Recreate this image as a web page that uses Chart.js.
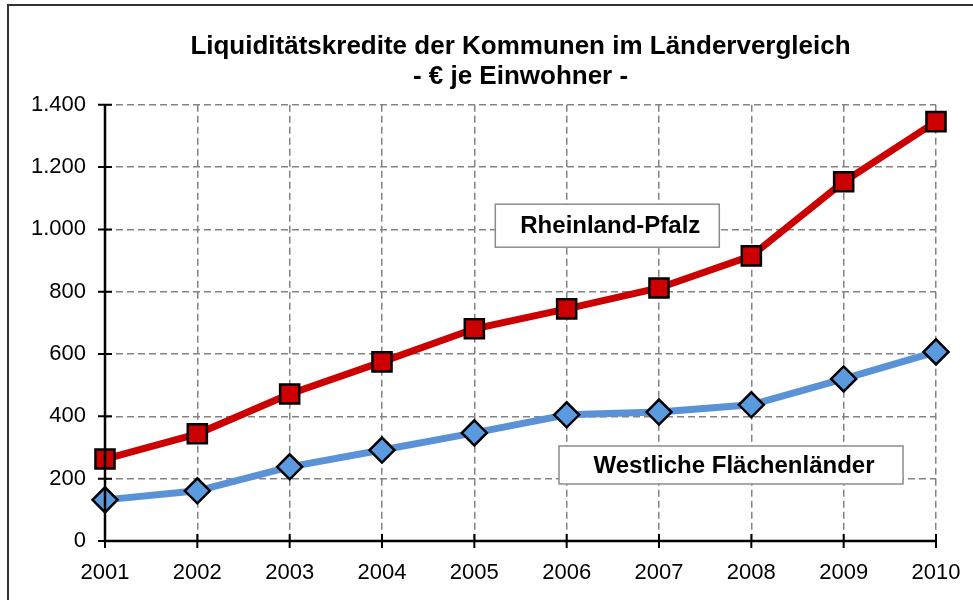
<!DOCTYPE html>
<html>
<head>
<meta charset="utf-8">
<script src="https://cdn.jsdelivr.net/npm/chart.js@4/dist/chart.umd.min.js"></script>
<style>
html,body{margin:0;padding:0;background:#fff;}
#wrap{width:973px;height:600px;position:relative;}
</style>
</head>
<body>
<div id="wrap"><canvas id="c" width="973" height="600"></canvas></div>
<script>
const years = ['2001','2002','2003','2004','2005','2006','2007','2008','2009','2010'];
const rheinlandPfalz = [263, 344, 472, 575, 681, 745, 812, 915, 1153, 1346];
const westlicheFlaechenlaender = [132, 161, 238, 292, 347, 405, 414, 437, 520, 607];
const seriesNames = ['Rheinland-Pfalz', 'Westliche Flächenländer'];
const titleLines = ['Liquiditätskredite der Kommunen im Ländervergleich', '- € je Einwohner -'];
// label box anchors in data coordinates: [x index, y value]
const labelAnchors = [[5.44, 1012], [6.78, 244]];

const FONT = 'Liberation Sans, Arial, sans-serif';

const boxLabels = {
  id: 'boxLabels',
  afterDatasetsDraw(chart) {
    const ctx = chart.ctx;
    const xs = chart.scales.x, ys = chart.scales.y;
    const boxes = [[224, 43], [344, 38]];
    ctx.save();
    ctx.font = 'bold 24px ' + FONT;
    ctx.textAlign = 'center';
    ctx.textBaseline = 'middle';
    seriesNames.forEach((name, i) => {
      const a = labelAnchors[i];
      const x0 = xs.getPixelForValue(0), x1 = xs.getPixelForValue(1);
      const cx = x0 + (x1 - x0) * a[0];
      const cy = ys.getPixelForValue(a[1]);
      const w = boxes[i][0], h = boxes[i][1];
      ctx.fillStyle = '#fff';
      ctx.fillRect(cx - w/2, cy - h/2, w, h);
      ctx.strokeStyle = '#8c8c8c';
      ctx.lineWidth = 1.5;
      ctx.strokeRect(cx - w/2, cy - h/2, w, h);
      ctx.fillStyle = '#000';
      ctx.fillText(name, cx + 3, cy + 1);
    });
    ctx.restore();
  }
};

const axesCross = {
  id: 'axesCross',
  afterDraw(chart) {
    const ctx = chart.ctx;
    const xs = chart.scales.x, ys = chart.scales.y;
    const area = chart.chartArea;
    ctx.save();
    ctx.strokeStyle = '#000';
    ctx.lineWidth = 2.5;
    ctx.beginPath();
    ctx.moveTo(area.left, area.top);
    ctx.lineTo(area.left, area.bottom);
    ctx.lineTo(area.right, area.bottom);
    ctx.stroke();
    ctx.lineWidth = 2;
    ctx.beginPath();
    ys.ticks.forEach((t, i) => {
      const y = ys.getPixelForTick(i);
      ctx.moveTo(area.left - 7, y);
      ctx.lineTo(area.left + 7, y);
    });
    xs.ticks.forEach((t, i) => {
      const x = xs.getPixelForTick(i);
      ctx.moveTo(x, area.bottom - 7);
      ctx.lineTo(x, area.bottom + 7);
    });
    ctx.stroke();
    // outer frame
    ctx.strokeStyle = '#333';
    ctx.lineWidth = 2;
    ctx.beginPath();
    ctx.moveTo(8, 610);
    ctx.lineTo(8, 5);
    ctx.lineTo(980, 5);
    ctx.stroke();
    ctx.restore();
  }
};

new Chart(document.getElementById('c'), {
  type: 'line',
  data: {
    labels: years,
    datasets: [
      {
        label: seriesNames[0],
        data: rheinlandPfalz,
        borderColor: '#cc0000',
        backgroundColor: '#cc0000',
        borderWidth: 7,
        pointStyle: 'rect',
        pointRadius: 13.5,
        pointBorderColor: '#000',
        pointBackgroundColor: '#cc0000',
        pointBorderWidth: 2.5,
        tension: 0
      },
      {
        label: seriesNames[1],
        data: westlicheFlaechenlaender,
        borderColor: '#5a92d8',
        backgroundColor: '#5a92d8',
        borderWidth: 7,
        pointStyle: 'rectRot',
        pointRadius: 12.5,
        pointBorderColor: '#000',
        pointBackgroundColor: '#5a9be0',
        pointBorderWidth: 2.5,
        tension: 0
      }
    ]
  },
  options: {
    responsive: false,
    animation: false,
    devicePixelRatio: 1,
    layout: { padding: { left: 0, right: 37, top: 0, bottom: 0 } },
    plugins: {
      legend: { display: false },
      tooltip: { enabled: false },
      title: {
        display: true,
        fullSize: false,
        text: titleLines,
        color: '#000',
        font: { family: FONT, size: 26, weight: 'bold', lineHeight: 1.15 },
        padding: { top: 32, bottom: 13 }
      }
    },
    scales: {
      x: {
        type: 'category',
        offset: false,
        grid: { color: '#838383', lineWidth: 1.5, drawTicks: false },
        border: { display: false, dash: [7, 4] },
        ticks: { color: '#000', font: { family: FONT, size: 22 }, padding: 19, maxRotation: 0 },
        afterFit(s) { s.height = 59; s.paddingRight = 0; s.paddingLeft = 0; }
      },
      y: {
        min: 0, max: 1400,
        grid: { color: '#838383', lineWidth: 1.5, drawTicks: false },
        border: { display: false, dash: [7, 4] },
        ticks: {
          stepSize: 200,
          color: '#000',
          font: { family: FONT, size: 22 },
          padding: 19,
          callback: v => v.toLocaleString('de-DE')
        },
        afterFit(s) { s.width = 105; }
      }
    }
  },
  plugins: [boxLabels, axesCross]
});
</script>
</body>
</html>
